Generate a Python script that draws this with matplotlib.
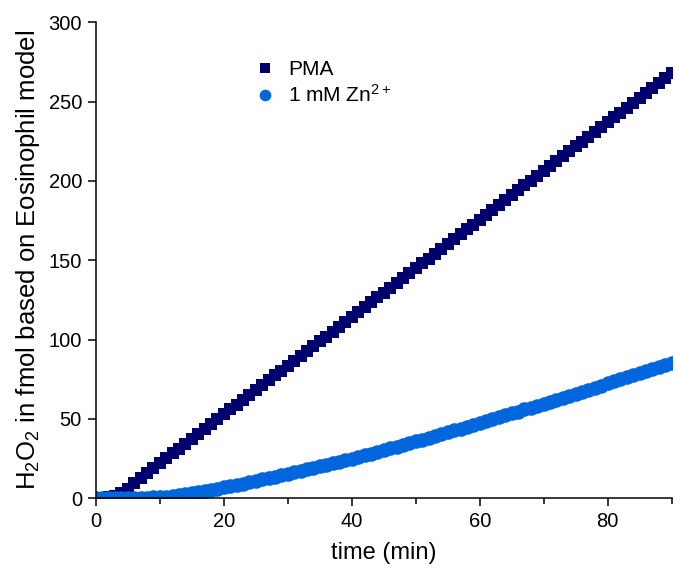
import numpy as np
import matplotlib
matplotlib.use('Agg')
import matplotlib.pyplot as plt

plt.rcParams['font.family'] = ['Liberation Sans', 'DejaVu Sans']
plt.rcParams['mathtext.fontset'] = 'custom'
plt.rcParams['mathtext.rm'] = 'Liberation Sans'
plt.rcParams['mathtext.default'] = 'regular'

#--data (one point per minute)--#
time_min = list(range(0, 91))

pma = [0.0, 0.1, 0.5, 1.6, 3.4, 6.0, 9.8, 12.9, 16.0, 19.0,
       22.1, 25.2, 28.2, 31.3, 34.4, 37.5, 40.5, 43.6, 46.7, 49.7,
       52.8, 55.9, 58.9, 62.0, 65.1, 68.2, 71.2, 74.3, 77.4, 80.4,
       83.5, 86.6, 89.6, 92.7, 95.8, 98.9, 101.9, 105.0, 108.1, 111.1,
       114.2, 117.3, 120.3, 123.4, 126.5, 129.6, 132.6, 135.7, 138.8, 141.8,
       144.9, 148.0, 151.0, 154.1, 157.2, 160.3, 163.3, 166.4, 169.5, 172.5,
       175.6, 178.7, 181.7, 184.8, 187.9, 191.0, 194.0, 197.1, 200.2, 203.2,
       206.3, 209.4, 212.4, 215.5, 218.6, 221.7, 224.7, 227.8, 230.9, 233.9,
       237.0, 240.1, 243.1, 246.2, 249.3, 252.4, 255.4, 258.5, 261.6, 264.6,
       267.7]

zn = [0.0, 0.0, 0.1, 0.1, 0.1, 0.2, 0.2, 0.3, 0.4, 0.5,
      0.6, 1.0, 1.5, 2.0, 2.6, 3.2, 3.9, 4.6, 5.3, 6.0,
      6.8, 7.6, 8.4, 9.2, 10.0, 10.9, 11.8, 12.6, 13.5, 14.4,
      15.3, 16.2, 17.1, 18.1, 19.0, 20.0, 21.0, 22.0, 23.0, 24.0,
      25.0, 26.0, 27.1, 28.1, 29.2, 30.3, 31.4, 32.5, 33.6, 34.7,
      35.8, 36.9, 38.0, 39.2, 40.3, 41.5, 42.7, 43.8, 45.0, 46.2,
      47.4, 48.6, 49.8, 51.0, 52.2, 53.4, 54.6, 55.9, 57.1, 58.4,
      59.6, 60.9, 62.1, 63.4, 64.6, 65.9, 67.2, 68.5, 69.7, 71.0,
      72.3, 73.6, 74.9, 76.2, 77.5, 78.8, 80.1, 81.4, 82.7, 84.1,
      85.4]

x_ticks = [0, 20, 40, 60, 80]
y_ticks = [0, 50, 100, 150, 200, 250, 300]

#--figure--#
fig = plt.figure(figsize=(6.75, 5.7), dpi=100)
ax = fig.add_axes([0.142, 0.126, 0.853, 0.835])

ax.plot(time_min, pma, linestyle='none', marker='s', markersize=8.6,
        color='#00006e', markeredgewidth=0, label='PMA')
ax.plot(time_min, zn, linestyle='none', marker='o', markersize=10.5,
        color='#0066dd', markeredgewidth=0, label='1 mM Zn$^{2+}$')

ax.set_xlim(0, 90)
ax.set_ylim(0, 300)
ax.set_xticks(x_ticks)
ax.set_xticks([10, 30, 50, 70, 90], minor=True)
ax.set_yticks(y_ticks)

for s in ['top', 'right']:
    ax.spines[s].set_visible(False)
for s in ['left', 'bottom']:
    ax.spines[s].set_linewidth(1.1)

ax.tick_params(axis='both', which='major', direction='out', length=6,
               width=1.1, labelsize=14.5, pad=4)
ax.tick_params(axis='x', which='minor', direction='out', length=4.5, width=1.1)

ax.set_xlabel('time (min)', fontsize=17, labelpad=8)
ax.set_ylabel('H$_2$O$_2$ in fmol based on Eosinophil model', fontsize=18.5, labelpad=5)

leg = ax.legend(loc='upper left', bbox_to_anchor=(0.24, 0.96), frameon=False,
                fontsize=15, handletextpad=0.5, handlelength=1.2,
                labelspacing=0.25, markerscale=0.8)

fig.savefig('out.png', dpi=100)
